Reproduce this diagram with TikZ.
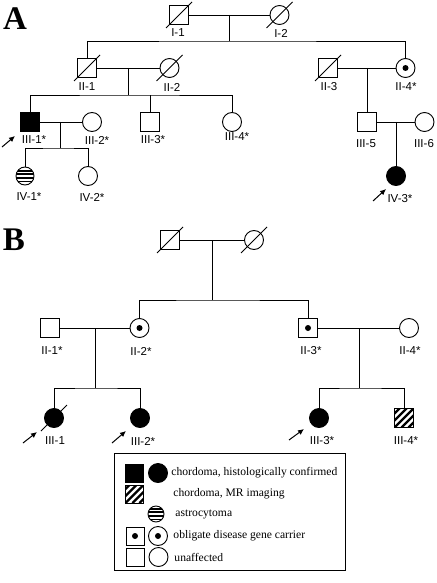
\documentclass[tikz,border=0pt]{standalone}
\usepackage{fontspec}
\setmainfont{Liberation Serif}
\newfontfamily\pedfont{Liberation Sans}
\usetikzlibrary{arrows.meta}
\tikzset{
  male/.style={draw, rectangle, minimum size=19pt, inner sep=0pt},
  female/.style={draw, circle, minimum size=19pt, inner sep=0pt},
  affected/.style={fill=black},
  carrier/.style={path picture={\fill (path picture bounding box.center) circle (3pt);}},
  mrimg/.style={path picture={\foreach \d in {-21,-14,...,21}
      \draw[line width=2.4pt] ([xshift=\d pt]path picture bounding box.south west) -- ++(24pt,24pt);}},
  astro/.style={path picture={\foreach \d in {-5.4,-1.8,1.8,5.4}
      \draw[line width=1.8pt] ([yshift=\d pt]path picture bounding box.west) -- ([yshift=\d pt]path picture bounding box.east);}},
  lbl/.style={font=\pedfont\fontsize{11.5}{11.5}\selectfont, inner sep=0pt},
  keytxt/.style={font=\fontsize{11.6}{12}\selectfont, inner sep=0pt, anchor=west},
  panel/.style={font=\bfseries\fontsize{33}{33}\selectfont, inner sep=0pt},
  proband/.style={line width=1pt, -{Latex[length=6pt,width=5.5pt]}}
}
\begin{document}
\begin{tikzpicture}[x=1pt, y=-1pt, line width=0.9pt]
  \useasboundingbox (0,0) rectangle (436,583);
  \node[panel] (titA) at (15,19) {A};
  \node[panel] (titB) at (14,240) {B};

  % family A
  \node[male] (AI1) at (179,15) {};
  \node[female] (AI2) at (279.5,15) {};
  \node[male] (AII1) at (87,68) {};
  \node[female] (AII2) at (169.5,68) {};
  \node[male] (AII3) at (328,68) {};
  \node[female, carrier] (AII4) at (405.5,68) {};
  \node[male, affected] (AIII1) at (30,122) {};
  \node[female] (AIII2) at (92,122) {};
  \node[male] (AIII3) at (150,122) {};
  \node[female] (AIII4) at (232,122) {};
  \node[male] (AIII5) at (367,122) {};
  \node[female] (AIII6) at (424.5,122) {};
  \node[female, astro, minimum size=18pt] (AIV1) at (25,176) {};
  \node[female] (AIV2) at (88,176) {};
  \node[female, affected] (AIV3) at (396,176) {};

  \coordinate (mA1) at (229,15);
  \coordinate (sA1) at (229,41);
  \draw (AI1) -- (AI2);
  \draw (mA1) -- (sA1);
  \draw (AII1) |- (sA1) -| (AII4);
  \coordinate (mA2) at (128,68);
  \coordinate (sA2) at (128,95);
  \draw (AII1) -- (AII2);
  \draw (mA2) -- (sA2);
  \draw (AIII1) |- (sA2) -| (AIII4);
  \draw (AIII3) -- (AIII3 |- sA2);
  \coordinate (mA3) at (367,68);
  \draw (AII3) -- (AII4);
  \draw (mA3) -- (AIII5);
  \coordinate (mA4) at (60,122);
  \coordinate (sA4) at (60,148);
  \draw (AIII1) -- (AIII2);
  \draw (mA4) -- (sA4);
  \draw (AIV1) |- (sA4) -| (AIV2);
  \coordinate (mA5) at (396,122);
  \draw (AIII5) -- (AIII6);
  \draw (mA5) -- (AIV3);

  \node[lbl] (lAI1) at (178,33) {I-1};
  \node[lbl] (lAI2) at (281,33) {I-2};
  \node[lbl] (lAII1) at (87,87) {II-1};
  \node[lbl] (lAII2) at (172,87) {II-2};
  \node[lbl] (lAII3) at (329,87) {II-3};
  \node[lbl] (lAII4) at (406,87) {II-4*};
  \node[lbl] (lAIII1) at (34,140) {III-1*};
  \node[lbl] (lAIII2) at (97,140) {III-2*};
  \node[lbl] (lAIII3) at (153,140) {III-3*};
  \node[lbl] (lAIII4) at (237,137) {III-4*};
  \node[lbl] (lAIII5) at (366,144) {III-5};
  \node[lbl] (lAIII6) at (424,144) {III-6};
  \node[lbl] (lAIV1) at (29,197) {IV-1*};
  \node[lbl] (lAIV2) at (92,197) {IV-2*};
  \node[lbl] (lAIV3) at (400,199) {IV-3*};

  % family B
  \node[male] (BI1) at (170,240) {};
  \node[female] (BI2) at (254,240) {};
  \node[male] (BII1) at (50,328) {};
  \node[female, carrier] (BII2) at (139.5,328) {};
  \node[male, carrier] (BII3) at (308,328) {};
  \node[female] (BII4) at (409,328) {};
  \node[female, affected] (BIII1) at (54,418) {};
  \node[female, affected] (BIII2) at (140,418) {};
  \node[female, affected] (BIII3) at (319,418) {};
  \node[male, mrimg] (BIII4) at (404,418) {};

  \coordinate (mB1) at (212,240);
  \coordinate (sB1) at (212,300);
  \draw (BI1) -- (BI2);
  \draw (mB1) -- (sB1);
  \draw (BII2) |- (sB1) -| (BII3);
  \coordinate (mB2) at (95,328);
  \coordinate (sB2) at (95,388);
  \draw (BII1) -- (BII2);
  \draw (mB2) -- (sB2);
  \draw (BIII1) |- (sB2) -| (BIII2);
  \coordinate (mB3) at (359,328);
  \coordinate (sB3) at (359,388);
  \draw (BII3) -- (BII4);
  \draw (mB3) -- (sB3);
  \draw (BIII3) |- (sB3) -| (BIII4);

  \node[lbl] (lBII1) at (52,351) {II-1*};
  \node[lbl] (lBII2) at (141,351) {II-2*};
  \node[lbl] (lBII3) at (311,351) {II-3*};
  \node[lbl] (lBII4) at (410,351) {II-4*};
  \node[lbl] (lBIII1) at (55,441) {III-1};
  \node[lbl] (lBIII2) at (143,441) {III-2*};
  \node[lbl] (lBIII3) at (322,441) {III-3*};
  \node[lbl] (lBIII4) at (406,441) {III-4*};

  \foreach \n in {AI1,AI2,AII1,AII2,AII3,BI1,BI2,BIII1}
    \draw ([shift={(-13,13)}]\n.center) -- ([shift={(13,-13)}]\n.center);

  \draw[proband] ([shift={(-28,25)}]AIII1.center) -- ([shift={(-15,14)}]AIII1.center);
  \draw[proband] ([shift={(-23,25)}]AIV3.center) -- ([shift={(-10,13)}]AIV3.center);
  \draw[proband] ([shift={(-31,25)}]BIII1.center) -- ([shift={(-17,14)}]BIII1.center);
  \draw[proband] ([shift={(-28,25)}]BIII2.center) -- ([shift={(-14,13)}]BIII2.center);
  \draw[proband] ([shift={(-30,22)}]BIII3.center) -- ([shift={(-15,11)}]BIII3.center);

  % key
  \node[draw, minimum width=231pt, minimum height=117pt, inner sep=0pt, anchor=north west] (key) at (114,453) {};
  \node[male, affected, minimum size=18pt] (k1a) at (134.5,473) {};
  \node[female, affected] (k1b) at (158,473) {};
  \node[keytxt] (k1t) at (171,473) {chordoma, histologically confirmed};
  \node[male, mrimg, minimum size=18pt] (k2a) at (134.5,494) {};
  \node[keytxt] (k2t) at (173,494) {chordoma, MR imaging};
  \node[female, astro, minimum size=16pt] (k3b) at (156,514) {};
  \node[keytxt] (k3t) at (175,514) {astrocytoma};
  \node[male, carrier, minimum size=18pt] (k4a) at (135,536) {};
  \node[female, carrier] (k4b) at (158,536) {};
  \node[keytxt] (k4t) at (173,536) {obligate disease gene carrier};
  \node[male, minimum size=18pt] (k5a) at (135,557) {};
  \node[female] (k5b) at (158.5,557) {};
  \node[keytxt] (k5t) at (174,557) {unaffected};
\end{tikzpicture}
\end{document}
